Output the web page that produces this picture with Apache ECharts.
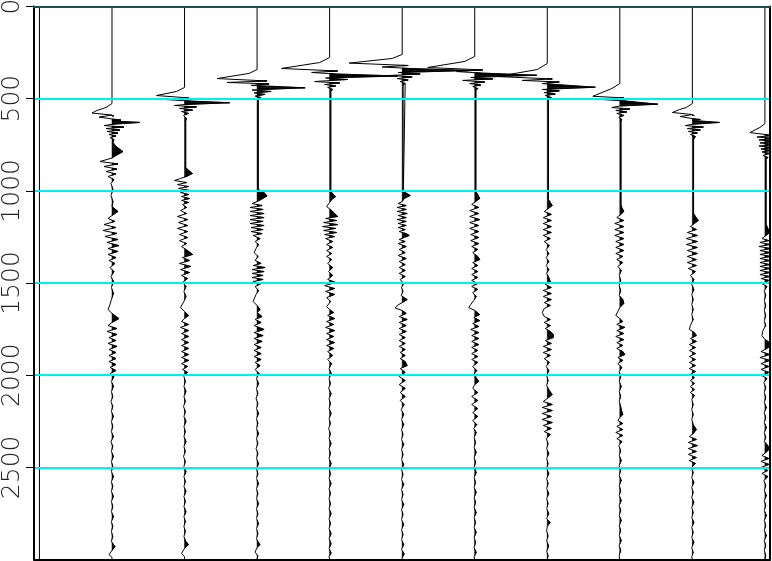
<!DOCTYPE html>
<html><head><meta charset="utf-8">
<script src="https://cdn.jsdelivr.net/npm/echarts@6/dist/echarts.min.js"></script>
<style>html,body{margin:0;padding:0;background:#fff}#c{width:772px;height:561px}</style>
</head><body><div id="c"></div>
<script>
// time axis ticks (ms)
const TIME_TICKS = [0, 500, 1000, 1500, 2000, 2500];
// trace positions (offset index)
const TRACE_POS = [0, 1, 2, 3, 4, 5, 6, 7, 8, 9, 10];
// each trace: flat list of [time ms, amplitude] pairs (peaks / troughs)
const T0 = [0,0, 3000,0];
const T1 = [0,0, 526,0, 548,-6, 564,-15, 578,-20, 589,0, 594,2, 600,-13, 610,0, 616,9, 621,0, 629,28, 639,0, 646,-8, 654,12, 662,-6, 670,8, 678,-5, 686,6, 694,-3, 703,4, 711,-2, 722,2, 738,1, 759,4, 787,11, 808,4, 822,0, 841,-12, 854,6, 868,-8, 882,5, 895,-6, 909,4, 922,-4, 939,2, 960,-1, 993,1, 1025,-1, 1058,1, 1085,0, 1112,6, 1134,0, 1150,-4, 1166,3, 1183,-8, 1199,4, 1215,-9, 1231,5, 1248,-7, 1264,6, 1280,-5, 1297,7, 1313,-4, 1329,6, 1345,-4, 1362,4, 1378,-3, 1394,3, 1416,-2, 1438,2, 1465,-1, 1492,1.5, 1524,-0.6, 1557,1.5, 1590,-0.6, 1617,-2, 1644,-4, 1665,0, 1693,7, 1714,0, 1731,-4, 1747,5, 1763,-5, 1779,5, 1796,-3, 1812,4, 1828,-4, 1844,5, 1861,-3, 1877,4, 1893,-3, 1910,4, 1926,-3, 1942,4, 1958,-2, 1975,4, 1991,-2, 2007,2, 2034,-0.6, 2061,1.5, 2088,-0.6, 2116,0.8, 2143,-1, 2170,0.8, 2197,-0.6, 2224,1.5, 2251,-0.6, 2278,0.8, 2306,-0.6, 2333,1.5, 2360,-1, 2387,0.8, 2414,-0.6, 2441,1.5, 2468,-0.6, 2495,0.8, 2523,-0.6, 2550,1.5, 2577,-0.6, 2604,0.8, 2631,-0.6, 2658,1.5, 2685,-0.6, 2713,0.8, 2740,-0.6, 2767,1.5, 2794,-0.6, 2821,0.8, 2848,-0.6, 2875,0.8, 2902,-0.6, 2930,3, 2951,0, 2973,-3, 2989,0, 3000,0];
const T2 = [0,0, 439,0, 461,-8, 483,-28, 496,4, 504,-22, 513,6, 522,45, 532,0, 537,-10, 545,12, 553,-5, 562,8, 570,-3, 580,4, 591,-1, 608,2, 620,1.2, 873,1.2, 884,3, 906,8, 922,2, 933,-4, 944,-10, 955,2, 966,-7, 977,4, 987,-6, 998,5, 1009,-4, 1020,4, 1031,-3, 1042,5, 1052,-3, 1063,4, 1074,-2, 1090,2, 1107,-4, 1123,2, 1139,-7, 1156,3, 1172,-6, 1188,3, 1204,-7, 1221,3, 1237,-5, 1253,3, 1270,-5, 1286,2, 1302,-3, 1324,3, 1345,8, 1362,-2, 1378,5, 1394,-5, 1410,6, 1427,-4, 1443,5, 1459,-3, 1476,3, 1497,-2, 1519,1.5, 1546,-0.6, 1573,1.5, 1600,-0.6, 1633,-4, 1655,0, 1676,4, 1693,0, 1709,-3, 1725,4, 1741,-4, 1758,4, 1774,-3, 1790,4, 1807,-3, 1823,4, 1839,-3, 1855,4, 1872,-3, 1888,4, 1904,-3, 1920,4, 1937,-3, 1953,3, 1969,-2, 1985,3, 2007,-0.6, 2034,0.8, 2061,-0.6, 2088,1.5, 2115,-0.6, 2142,0.8, 2170,-1, 2197,0.8, 2224,-0.6, 2251,1.5, 2278,-0.6, 2306,0.8, 2333,-0.6, 2360,1.5, 2387,-0.6, 2414,0.8, 2441,-1, 2468,0.8, 2495,-0.6, 2523,1.5, 2550,-0.6, 2577,0.8, 2604,-0.6, 2631,1.5, 2658,-0.6, 2685,0.8, 2713,-0.6, 2740,1.5, 2767,-0.6, 2794,0.8, 2821,-0.6, 2848,0.8, 2875,-0.6, 2900,1, 2919,4, 2940,0, 2967,-3, 2985,0, 3000,0];
const T3 = [0,0, 342,0, 363,-8, 391,-40, 404,10, 412,-30, 420,12, 428,-6, 441,48, 453,-5, 461,14, 469,-3, 477,8, 486,-2, 494,4, 504,1.2, 993,1.2, 1004,6, 1028,10, 1047,4, 1058,0, 1069,-5, 1080,5, 1090,-7, 1101,6, 1112,-7, 1123,7, 1134,-7, 1145,7, 1156,-7, 1166,6, 1177,-7, 1188,7, 1199,-6, 1210,6, 1221,-6, 1232,5, 1242,-4, 1259,3, 1275,-2, 1291,1.5, 1313,-1, 1335,-3, 1356,1, 1378,-2, 1394,4, 1405,-4, 1416,8, 1427,-5, 1438,7, 1448,-5, 1459,6, 1470,-5, 1481,6, 1492,-4, 1503,4, 1519,-2, 1541,1.5, 1562,-1, 1600,-4, 1622,0, 1644,3, 1660,0, 1682,5, 1698,-2, 1714,4, 1731,-3, 1752,7, 1769,-3, 1785,6, 1801,-3, 1817,5, 1834,-3, 1850,4, 1866,-3, 1883,4, 1899,-3, 1915,4, 1931,-2, 1948,3, 1969,-2, 1991,2, 2018,-0.6, 2045,1.5, 2072,-0.6, 2100,0.8, 2127,-1, 2154,0.8, 2181,-0.6, 2208,1.5, 2235,-0.6, 2262,0.8, 2290,-0.6, 2317,1.5, 2344,-0.6, 2371,0.8, 2398,-1, 2425,0.8, 2452,-0.6, 2480,1.5, 2507,-0.6, 2534,0.8, 2561,-0.6, 2588,1.5, 2615,-0.6, 2642,0.8, 2670,-0.6, 2697,1.5, 2724,-0.6, 2751,0.8, 2778,-0.6, 2805,1.5, 2832,-0.6, 2860,0.8, 2887,-0.6, 2905,1, 2919,3, 2935,0, 2960,-2, 2980,0.8, 3000,0];
const T4 = [0,0, 277,0, 304,-10, 336,-48, 350,8, 358,-18, 366,6, 377,68, 388,-4, 396,18, 407,-15, 415,10, 423,-5, 431,6, 439,-2, 450,3, 461,1.2, 1004,1.2, 1015,3, 1031,6, 1047,2, 1063,0, 1085,-3, 1107,2, 1123,5, 1139,8, 1150,-4, 1161,7, 1172,-6, 1183,8, 1194,-7, 1204,6, 1215,-6, 1226,7, 1237,-5, 1248,5, 1259,-4, 1275,3, 1291,-3, 1307,3, 1324,-3, 1340,2, 1356,-3, 1373,2, 1394,-2, 1416,3, 1438,-1, 1459,3, 1481,-2, 1497,6, 1514,-5, 1530,5, 1546,-4, 1562,5, 1579,-3, 1600,1, 1628,-3, 1644,0, 1660,4, 1676,-2, 1693,5, 1709,-3, 1725,4, 1741,-4, 1758,5, 1774,-3, 1790,4, 1807,-3, 1823,5, 1839,-3, 1855,4, 1872,-2, 1893,3, 1915,-2, 1937,2, 1964,-0.6, 1991,1.5, 2018,-0.6, 2045,0.8, 2072,-1, 2100,1.5, 2127,-0.6, 2154,0.8, 2181,-0.6, 2208,1.5, 2235,-0.6, 2262,0.8, 2290,-1, 2317,0.8, 2344,-0.6, 2371,1.5, 2398,-0.6, 2425,0.8, 2452,-0.6, 2480,1.5, 2507,-0.6, 2534,0.8, 2561,-0.6, 2588,1.5, 2615,-0.6, 2642,0.8, 2670,-0.6, 2697,0.8, 2724,-0.6, 2751,1.5, 2778,-0.6, 2805,0.8, 2832,-0.6, 2860,1.5, 2887,-0.6, 2914,1.5, 2940,-0.6, 2965,1.5, 2985,-0.6, 3000,0];
const T5 = [0,0, 260,0, 282,-10, 307,-53, 320,6, 328,-20, 336,6, 347,70, 358,-4, 366,18, 374,-12, 382,10, 391,-5, 399,6, 407,-2, 418,3, 428,1.2, 998,1.2, 1009,3, 1025,8, 1042,2, 1058,0, 1069,-4, 1080,4, 1090,-5, 1101,4, 1112,-5, 1123,5, 1134,-4, 1145,4, 1156,-5, 1166,4, 1177,-4, 1188,4, 1199,-4, 1210,3, 1221,-3, 1232,4, 1242,7, 1253,2, 1264,-3, 1275,3, 1286,-4, 1302,4, 1318,-3, 1335,3, 1351,-4, 1367,4, 1384,-3, 1400,3, 1416,-3, 1432,3, 1448,-3, 1465,3, 1481,-2, 1503,1.5, 1524,-0.6, 1546,0.8, 1568,-1, 1590,5, 1606,0, 1622,-5, 1636,-7, 1649,0, 1665,4, 1682,-3, 1698,5, 1714,-3, 1731,4, 1747,-3, 1763,4, 1779,-3, 1796,3, 1812,-3, 1828,3, 1844,-3, 1861,3, 1877,-2, 1893,3, 1910,-2, 1926,3, 1948,5, 1964,-2, 1985,3, 2007,-3, 2029,3, 2051,-3, 2072,3, 2094,-2, 2116,3, 2137,-2, 2159,2, 2186,-1, 2213,1.5, 2240,-0.6, 2268,1.5, 2295,-0.6, 2322,0.8, 2349,-0.6, 2376,1.5, 2403,-0.6, 2430,0.8, 2458,-0.6, 2485,1.5, 2512,-0.6, 2539,0.8, 2566,-0.6, 2593,1.5, 2620,-0.6, 2648,0.8, 2675,-0.6, 2702,1.5, 2729,-0.6, 2756,0.8, 2783,-0.6, 2810,1.5, 2838,-0.6, 2865,0.8, 2892,-0.6, 2919,1.5, 2946,-0.6, 2970,2, 2990,0, 3000,0];
const T6 = [0,0, 271,0, 298,-10, 331,-47, 344,8, 353,-18, 361,6, 373,62, 385,-4, 393,18, 401,-12, 410,10, 418,-5, 426,6, 434,-2, 445,3, 456,1.2, 1004,1.2, 1020,3, 1042,5, 1058,1, 1074,-3, 1090,4, 1107,-5, 1123,4, 1139,-5, 1156,5, 1172,-5, 1188,4, 1204,-5, 1221,4, 1237,-4, 1253,4, 1270,-4, 1286,4, 1302,-3, 1318,3, 1335,-2, 1356,3, 1373,5, 1389,-2, 1405,3, 1421,-3, 1438,3, 1454,-3, 1470,3, 1486,-3, 1503,3, 1519,-3, 1535,3, 1552,-2, 1573,1.5, 1595,-1, 1617,-4, 1633,-6, 1649,0, 1671,5, 1687,-1, 1704,5, 1720,-2, 1736,4, 1752,-4, 1769,4, 1785,-3, 1801,4, 1817,-3, 1834,4, 1850,-3, 1866,3, 1883,-3, 1899,3, 1915,-3, 1931,3, 1953,-2, 1975,2, 1996,-1, 2018,2, 2034,4, 2051,0, 2072,-2, 2094,3, 2116,-3, 2137,3, 2159,-3, 2181,3, 2203,-2, 2224,3, 2246,-2, 2268,2, 2289,-1, 2311,1.5, 2338,-0.6, 2365,0.8, 2392,-0.6, 2419,1.5, 2446,-0.6, 2473,0.8, 2500,-0.6, 2528,1.5, 2555,-0.6, 2582,0.8, 2609,-0.6, 2636,1.5, 2663,-0.6, 2690,0.8, 2718,-0.6, 2745,1.5, 2772,-0.6, 2799,0.8, 2826,-0.6, 2853,1.5, 2880,-0.6, 2908,0.8, 2935,-0.6, 2962,1.5, 2985,-0.6, 3000,0];
const T7 = [0,0, 309,0, 342,-10, 380,-50, 393,5, 401,-25, 410,12, 418,-5, 438,48, 450,-5, 458,12, 467,-3, 475,8, 483,-2, 494,4, 504,1.2, 1047,1.2, 1063,3, 1080,5, 1096,1, 1112,-3, 1128,4, 1145,-4, 1161,4, 1177,-4, 1194,4, 1210,-4, 1226,4, 1242,-4, 1259,3, 1275,-3, 1297,2, 1318,-1, 1340,1.5, 1362,-1, 1384,1.5, 1405,-1, 1427,1.5, 1448,-0.6, 1470,1.5, 1492,3, 1508,-2, 1524,4, 1541,-4, 1557,4, 1573,-4, 1590,4, 1606,-3, 1622,3, 1638,-3, 1660,-5, 1682,-3, 1698,3, 1714,-3, 1731,3, 1747,-2, 1763,3, 1779,6, 1796,6, 1812,-2, 1828,4, 1844,-4, 1861,4, 1877,-4, 1893,3, 1910,-3, 1931,2, 1953,-1, 1975,1.5, 2002,-0.6, 2029,0.8, 2056,-0.6, 2083,2, 2105,5, 2127,0, 2143,-4, 2159,5, 2175,-5, 2192,5, 2208,-5, 2224,4, 2240,-5, 2257,5, 2273,-4, 2289,4, 2306,-3, 2322,3, 2344,-1, 2371,0.8, 2398,-0.6, 2425,1.5, 2452,-0.6, 2480,0.8, 2507,-0.6, 2534,1.5, 2561,-0.6, 2588,0.8, 2615,-0.6, 2642,1.5, 2670,-0.6, 2697,0.8, 2724,-0.6, 2751,1.5, 2778,-0.6, 2799,3, 2820,0, 2845,-0.6, 2872,0.8, 2900,-0.6, 2927,1.5, 2954,-0.6, 2980,0.8, 3000,0];
const T8 = [0,0, 418,0, 445,-8, 487,-27, 496,4, 504,-20, 513,6, 530,38, 540,0, 548,-8, 556,10, 564,-4, 572,7, 580,-3, 591,4, 602,-1, 613,2, 625,1.2, 1074,1.2, 1090,2, 1112,4, 1128,1, 1145,-3, 1161,4, 1177,-5, 1194,4, 1210,-5, 1226,4, 1242,-5, 1259,4, 1275,-4, 1291,4, 1307,-4, 1324,4, 1340,-4, 1356,3, 1373,-3, 1389,3, 1410,-2, 1432,1.5, 1459,-0.6, 1486,0.8, 1514,-0.6, 1541,0.8, 1568,-0.6, 1590,3, 1611,4, 1633,0, 1655,-2, 1676,-4, 1693,0, 1709,3, 1725,-3, 1741,5, 1758,-3, 1774,4, 1790,-4, 1807,4, 1823,-3, 1839,3, 1855,-3, 1872,3, 1888,5, 1904,-2, 1920,3, 1937,-2, 1958,2, 1980,-0.6, 2007,0.8, 2034,-0.6, 2061,1.5, 2088,-0.6, 2115,0.8, 2142,-0.6, 2170,0.8, 2197,2, 2213,3, 2230,0, 2246,-2, 2262,3, 2278,-3, 2295,3, 2311,-4, 2327,3, 2344,-3, 2360,2, 2382,-1, 2409,0.8, 2436,-0.6, 2463,1.5, 2490,-0.6, 2517,0.8, 2544,-0.6, 2571,1.5, 2598,-0.6, 2626,0.8, 2653,-0.6, 2680,1.5, 2707,-0.6, 2734,0.8, 2761,-0.6, 2788,1.5, 2815,-0.6, 2842,0.8, 2870,-0.6, 2897,1.5, 2924,-0.6, 2951,0.8, 2978,-0.6, 3000,0];
const T9 = [0,0, 526,0, 548,-6, 559,-13, 575,-20, 586,0, 591,2, 597,-12, 608,0, 613,8, 618,0, 629,27, 639,0, 646,-7, 654,11, 662,-5, 670,8, 678,-4, 686,5, 694,-2, 705,3, 722,1.2, 1123,1.2, 1139,3, 1161,6, 1177,2, 1194,-2, 1210,4, 1226,-5, 1242,5, 1259,-6, 1275,5, 1291,-6, 1307,5, 1324,-5, 1340,5, 1356,-5, 1373,4, 1389,-5, 1405,4, 1421,-4, 1438,3, 1459,-2, 1481,1.5, 1508,-0.6, 1535,1.5, 1562,-0.6, 1590,0.8, 1617,-0.6, 1644,0.8, 1671,-0.6, 1698,0.8, 1731,-2, 1752,-3, 1769,2, 1785,4, 1801,-2, 1817,4, 1834,-3, 1850,3, 1866,-3, 1883,3, 1899,-3, 1915,3, 1931,-3, 1948,3, 1964,-3, 1980,3, 1996,-2, 2013,2, 2029,-2, 2045,2, 2062,-2, 2078,2, 2094,-2, 2110,2, 2132,-0.6, 2159,0.8, 2186,-0.6, 2213,0.8, 2240,-0.6, 2268,0.8, 2295,4, 2316,1, 2333,-3, 2349,4, 2365,-4, 2382,5, 2398,-4, 2414,4, 2430,-4, 2447,4, 2463,-3, 2479,3, 2501,-1, 2528,0.8, 2555,-0.6, 2582,1.5, 2609,-0.6, 2636,0.8, 2663,-0.6, 2690,1.5, 2718,-0.6, 2745,0.8, 2772,-0.6, 2799,1.5, 2826,-0.6, 2853,0.8, 2880,-0.6, 2908,1.5, 2935,-0.6, 2962,0.8, 2985,-0.6, 3000,0];
const T10 = [0,0, 635,0, 656,-5, 684,-15, 694,0, 700,8, 708,-8, 716,10, 724,-6, 732,12, 740,-5, 749,10, 757,-6, 765,9, 773,-4, 781,7, 789,-3, 797,5, 808,-2, 819,3, 830,1.2, 1183,1.2, 1204,3, 1226,5, 1242,1, 1259,-3, 1270,4, 1280,-5, 1291,5, 1302,-6, 1313,6, 1324,-5, 1335,6, 1345,-5, 1356,6, 1367,-5, 1378,5, 1389,-5, 1400,5, 1410,-5, 1421,5, 1432,-5, 1443,5, 1454,-5, 1465,5, 1476,-4, 1486,4, 1503,-3, 1519,2, 1541,-0.6, 1568,0.8, 1595,-0.6, 1622,0.8, 1649,-0.6, 1676,0.8, 1704,-0.6, 1731,0.8, 1758,-2, 1785,-3, 1807,0, 1823,5, 1839,6, 1855,2, 1872,-4, 1888,5, 1904,-5, 1920,5, 1937,-4, 1953,4, 1969,-4, 1985,4, 2002,-3, 2018,2, 2040,-1, 2067,0.8, 2094,-0.6, 2121,0.8, 2148,-0.6, 2175,1.5, 2202,-0.6, 2230,0.8, 2257,-0.6, 2284,1.5, 2311,-0.6, 2338,0.8, 2360,-0.6, 2376,2, 2398,5, 2419,1, 2436,-3, 2452,4, 2468,-4, 2484,4, 2501,-4, 2517,3, 2533,-3, 2550,3, 2571,-1, 2598,0.8, 2626,-0.6, 2653,1.5, 2680,-0.6, 2707,0.8, 2734,-0.6, 2761,1.5, 2788,-0.6, 2815,0.8, 2842,-0.6, 2870,1.5, 2897,-0.6, 2924,0.8, 2951,-0.6, 2978,0.8, 3000,0];
const TRACES = [T0, T1, T2, T3, T4, T5, T6, T7, T8, T9, T10];

const GAIN = 1 / 72.56; // amplitude unit -> trace spacing

const chart = echarts.init(document.getElementById('c'), null, {renderer: 'canvas', devicePixelRatio: 1});

const series = [];
TRACES.forEach(function (tr, k) {
  const pos = TRACE_POS[k];
  const pts = [];
  for (let i = 0; i < tr.length; i += 2) pts.push([pos + tr[i + 1] * GAIN, tr[i], tr[i + 1]]);
  series.push({
    type: 'custom', clip: true, silent: true, z: 2,
    data: pts,
    encode: {x: 0, y: 1},
    renderItem: function (params, api) {
      const i = params.dataIndex;
      if (i >= pts.length - 1) return null;
      const p0 = pts[i], p1 = pts[i + 1];
      const a0 = p0[2], a1 = p1[2];
      if (a0 <= 0 && a1 <= 0) return null;
      let poly;
      if (a0 >= 0 && a1 >= 0) {
        poly = [[pos, p0[1]], [p0[0], p0[1]], [p1[0], p1[1]], [pos, p1[1]]];
      } else if (a0 > 0) {
        const tz = p0[1] + (p1[1] - p0[1]) * a0 / (a0 - a1);
        poly = [[pos, p0[1]], [p0[0], p0[1]], [pos, tz]];
      } else {
        const tz = p0[1] + (p1[1] - p0[1]) * (-a0) / (a1 - a0);
        poly = [[pos, tz], [p1[0], p1[1]], [pos, p1[1]]];
      }
      return {
        type: 'polygon',
        shape: {points: poly.map(function (p) { return api.coord(p); })},
        style: {fill: '#000', stroke: '#000', lineWidth: 0.5}
      };
    }
  });
  series.push({
    type: 'line', clip: true, silent: true, z: 3,
    data: pts.map(function (p) { return [p[0], p[1]]; }),
    showSymbol: false, symbol: 'none',
    lineStyle: {color: '#000', width: 1}
  });
});

chart.setOption({
  animation: false,
  backgroundColor: '#fff',
  grid: {left: 34, right: 2, top: 6.5, bottom: 1.5, containLabel: false, outerBoundsMode: 'none'},
  xAxis: [
    {type: 'value', min: -0.075, max: 10.07, position: 'top',
     axisLine: {show: true, onZero: false, lineStyle: {color: '#1d4d4d', width: 2}},
     axisTick: {show: false}, axisLabel: {show: false}, splitLine: {show: false}, z: 12},
    {type: 'value', min: -0.075, max: 10.07, position: 'bottom',
     axisLine: {show: true, onZero: false, lineStyle: {color: '#000', width: 2}},
     axisTick: {show: false}, axisLabel: {show: false}, splitLine: {show: false}, z: 12}
  ],
  yAxis: [
    {type: 'value', inverse: true, min: 0, max: 3000, interval: 500, position: 'left',
     axisLine: {show: true, onZero: false, lineStyle: {color: '#000', width: 2}},
     axisTick: {show: true, length: 8, customValues: TIME_TICKS, lineStyle: {color: '#000', width: 1}},
     axisLabel: {show: true, rotate: 90, margin: 9, customValues: TIME_TICKS,
       fontFamily: 'DejaVu Sans', fontSize: 25, fontWeight: 200, color: '#222',
       formatter: function (v) { return v >= 3000 ? '' : String(v); }},
     splitLine: {show: true, lineStyle: {color: '#00f0f0', width: 2}}, z: 10},
    {type: 'value', inverse: true, min: 0, max: 3000, position: 'right',
     axisLine: {show: true, onZero: false, lineStyle: {color: '#000', width: 2}},
     axisTick: {show: false}, axisLabel: {show: false}, splitLine: {show: false}, z: 12}
  ],
  series: series
});
</script>
</body></html>
